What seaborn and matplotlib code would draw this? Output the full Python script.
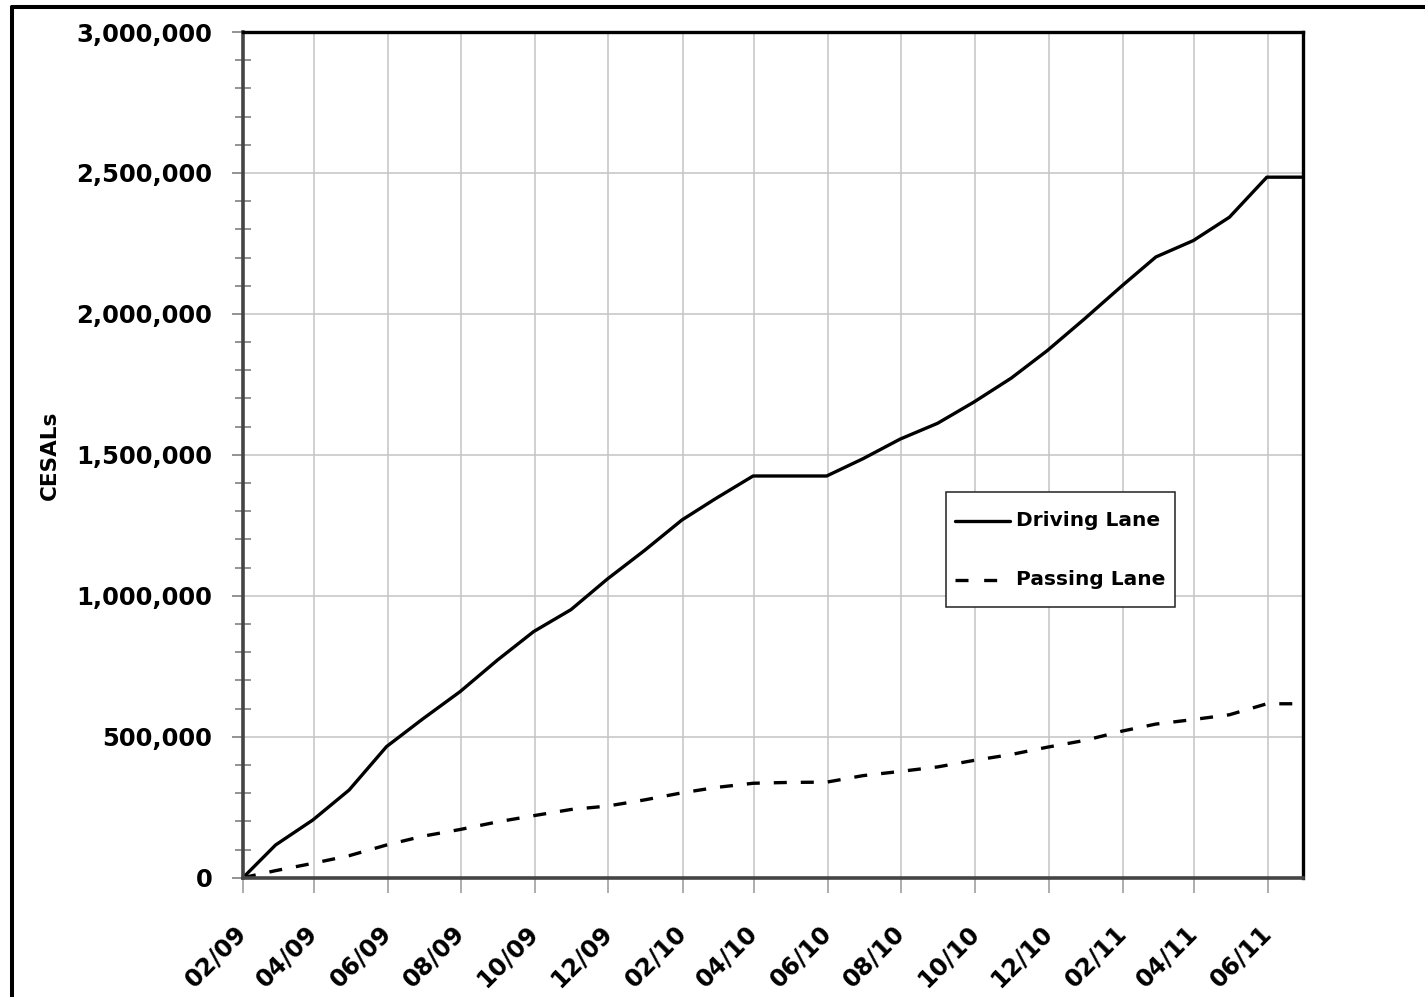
import matplotlib
matplotlib.use("Agg")
import matplotlib.pyplot as plt
import matplotlib.dates as mdates
from matplotlib.ticker import MultipleLocator, FuncFormatter
from matplotlib.lines import Line2D
import pandas as pd
import seaborn as sns

# Cumulative CESALs per lane, recorded at month end
dates = [
    "2009-02-01", "2009-02-28", "2009-03-31", "2009-04-30", "2009-05-31",
    "2009-06-30", "2009-07-31", "2009-08-31", "2009-09-30", "2009-10-31",
    "2009-11-30", "2009-12-31", "2010-01-31", "2010-02-28", "2010-03-31",
    "2010-04-30", "2010-05-31", "2010-06-30", "2010-07-31", "2010-08-31",
    "2010-09-30", "2010-10-31", "2010-11-30", "2010-12-31", "2011-01-31",
    "2011-02-28", "2011-03-31", "2011-04-30", "2011-05-31", "2011-06-30",
]
driving_lane = [
    0, 116000, 205000, 311000, 465000,
    563000, 660000, 772000, 873000, 951000,
    1059000, 1161000, 1269000, 1345000, 1425000,
    1425000, 1425000, 1486000, 1556000, 1612000,
    1687000, 1772000, 1870000, 1983000, 2100000,
    2202000, 2260000, 2343000, 2485000, 2485000,
]
passing_lane = [
    0, 25000, 51000, 78000, 116000,
    147000, 171000, 198000, 220000, 242000,
    254000, 276000, 301000, 320000, 335000,
    338000, 339000, 362000, 377000, 393000,
    416000, 437000, 463000, 487000, 520000,
    545000, 561000, 578000, 617000, 617000,
]
series_names = ["Driving Lane", "Passing Lane"]
y_label = "CESALs"

df = pd.DataFrame({
    "date": pd.to_datetime(dates),
    "Driving Lane": driving_lane,
    "Passing Lane": passing_lane,
})

sns.set_style("white")
plt.rcParams["font.family"] = ["DejaVu Sans"]
plt.rcParams["text.color"] = "black"

W, H = 1425, 997
fig = plt.figure(figsize=(W / 100, H / 100), dpi=100)
ax = fig.add_axes([243 / W, (H - 877.7) / H, (1303 - 243) / W, (877.7 - 32) / H])

LW = 2.4
sns.lineplot(data=df, x="date", y="Driving Lane", color="black",
             linewidth=LW, label=series_names[0], ax=ax)
sns.lineplot(data=df, x="date", y="Passing Lane", color="black",
             linewidth=LW, label=series_names[1], ax=ax)
DASH = (0, (3.9, 4.2))
ax.lines[1].set_linestyle(DASH)

# Axes ranges and ticks
ax.set_xlim(pd.Timestamp("2009-02-01"), pd.Timestamp("2011-06-30"))
ax.set_ylim(0, 3000000)
ax.xaxis.set_major_locator(mdates.MonthLocator(bymonth=[2, 4, 6, 8, 10, 12]))
ax.xaxis.set_major_formatter(mdates.DateFormatter("%m/%y"))
ax.yaxis.set_major_locator(MultipleLocator(500000))
ax.yaxis.set_minor_locator(MultipleLocator(100000))
ax.yaxis.set_major_formatter(FuncFormatter(lambda v, _: f"{int(v):,}"))

ax.grid(True, which="major", axis="both", color="#c4c4c4", linewidth=1.1)
ax.set_axisbelow(True)
ax.set_xlabel("")
ax.set_ylabel("")

ax.tick_params(axis="y", which="major", direction="out", length=8, width=1.2,
               color="#808080", pad=14, labelsize=17.5, labelcolor="black",
               left=True)
ax.tick_params(axis="y", which="minor", direction="inout", length=11, width=1.2,
               color="#808080", left=True)
ax.tick_params(axis="x", which="major", direction="out", length=11, width=1.2,
               color="#a0a0a0", pad=26, labelsize=17.5, labelcolor="black",
               bottom=True)

for lab in ax.get_yticklabels():
    lab.set_fontweight("bold")
for lab in ax.get_xticklabels():
    lab.set_fontweight("bold")
    lab.set_rotation(45)
    lab.set_ha("right")
    lab.set_va("center")
    lab.set_rotation_mode("anchor")

for side in ["top", "right"]:
    ax.spines[side].set_color("black")
    ax.spines[side].set_linewidth(2.4)
for side in ["left", "bottom"]:
    ax.spines[side].set_color("#454545")
    ax.spines[side].set_linewidth(2.6)

leg = ax.legend(loc="upper left", bbox_to_anchor=(0.663, 0.456),
                borderaxespad=0, frameon=True, fancybox=False,
                edgecolor="#222222", framealpha=1,
                prop={"weight": "bold", "size": 14.5},
                handlelength=2.7, handletextpad=0.3, handleheight=2.5,
                labelspacing=1.04, borderpad=0.47)
leg.get_frame().set_linewidth(1.1)
# legend keys: same strokes as the plotted lines, centred on their labels
for h, ls in zip(leg.get_lines(), ["-", (0, (3.9, 4.7))]):
    h.set_linewidth(LW)
    h.set_linestyle(ls)
    h.set_ydata([y - 5 for y in h.get_ydata()])
for t in leg.get_texts():
    t.set_color("black")

fig.text(50 / W, 1 - 455 / H, y_label, rotation=90, ha="center", va="center",
         fontsize=15.5, fontweight="bold", color="black")

# Chart border
fig.add_artist(Line2D([12 / W, 12 / W], [0, 1 - 7 / H], transform=fig.transFigure,
                      color="black", linewidth=2.9))
fig.add_artist(Line2D([12 / W, 1], [1 - 7 / H, 1 - 7 / H], transform=fig.transFigure,
                      color="black", linewidth=2.9))

fig.savefig("out.png", dpi=100, facecolor="white")
